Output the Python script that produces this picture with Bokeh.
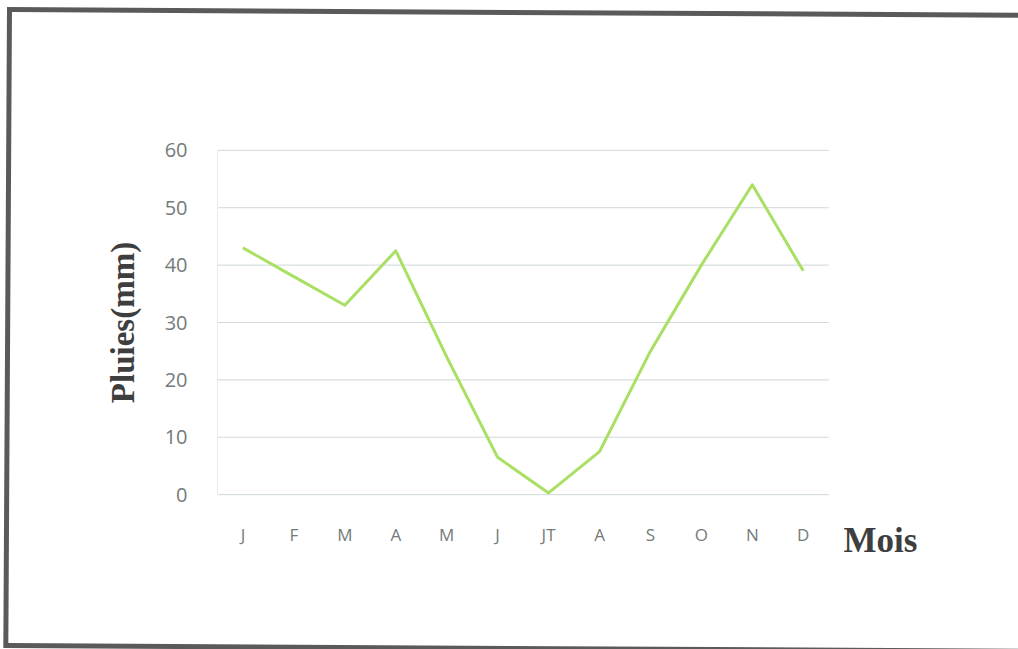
from bokeh.plotting import figure
from bokeh.models import Range1d, FixedTicker, Label, InlineStyleSheet
from bokeh.embed import file_html
from bokeh.resources import INLINE

# Monthly rainfall (mm)
months = ["J", "F", "M", "A", "M", "J", "JT", "A", "S", "O", "N", "D"]
rain_mm = [43, 38, 33, 42.5, 24, 6.5, 0.3, 7.5, 25, 40, 54, 39]
y_ticks = [0, 10, 20, 30, 40, 50, 60]

W, H = 1018, 649
n = len(months)
positions = [i + 0.5 for i in range(n)]

# the frame reaches past the month axis so the "Mois" caption can sit beside it;
# the vertical range is padded evenly so the axis title stays centred on 0-60
p = figure(width=W, height=H, output_backend="svg", toolbar_location=None,
           x_range=Range1d(0, 15), y_range=Range1d(-12, 72),
           min_border_left=217, min_border_right=37,
           min_border_top=81, min_border_bottom=86)
p.background_fill_color = "white"
p.border_fill_color = "white"
p.outline_line_color = None
p.xgrid.visible = False
p.ygrid.visible = False

# horizontal guide lines across the twelve months only
p.segment(x0=[0] * len(y_ticks), y0=y_ticks, x1=[n] * len(y_ticks), y1=y_ticks,
          line_color="#cfd8dc", line_width=1)

# rainfall curve
p.line(positions, rain_mm, line_color="#a9df63", line_width=3, line_join="round")

tick_color = "#737b7b"

# x axis: month initials, pinned to the zero line
p.xaxis.fixed_location = 0
p.xaxis.ticker = FixedTicker(ticks=positions)
p.xaxis.major_label_overrides = {pos: m for pos, m in zip(positions, months)}
p.xaxis.axis_line_color = None
p.xaxis.major_tick_line_color = None
p.xaxis.minor_tick_line_color = None
p.xaxis.major_label_text_font = "Open Sans"
p.xaxis.major_label_text_font_size = "17px"
p.xaxis.major_label_text_color = tick_color
p.xaxis.major_label_standoff = 22

# y axis
p.yaxis.ticker = FixedTicker(ticks=y_ticks)
p.yaxis.bounds = (0, 60)
p.yaxis.axis_line_color = "#e6ecee"
p.yaxis.major_tick_line_color = None
p.yaxis.minor_tick_line_color = None
p.yaxis.major_label_text_font = "Open Sans"
p.yaxis.major_label_text_font_size = "20px"
p.yaxis.major_label_text_color = tick_color
p.yaxis.major_label_standoff = 24
p.yaxis.axis_label = "Pluies(mm)"
p.yaxis.axis_label_text_font = "Liberation Serif"
p.yaxis.axis_label_text_font_style = "bold"
p.yaxis.axis_label_text_font_size = "33px"
p.yaxis.axis_label_text_color = "#3e3e3e"
p.yaxis.axis_label_standoff = 21

# x axis caption to the right of the month labels
p.add_layout(Label(x=n + 0.29, y=-8.0, text="Mois",
                   text_font="Liberation Serif", text_font_style="bold",
                   text_font_size="35px", text_color="#3e3e3e",
                   text_baseline="middle", text_align="left"))

# dark frame drawn round the whole graphic
frame_css = """
:host { overflow: hidden; }
:host::after {
  content: "";
  position: absolute;
  left: 7px;
  top: 7px;
  width: 1040px;
  height: 631px;
  border: 5px solid #5a5a5a;
  transform: rotate(0.33deg);
  transform-origin: 0 0;
  pointer-events: none;
}
"""
p.stylesheets = [InlineStyleSheet(css=frame_css)]

open("out.html", "w").write(file_html(p, INLINE))
